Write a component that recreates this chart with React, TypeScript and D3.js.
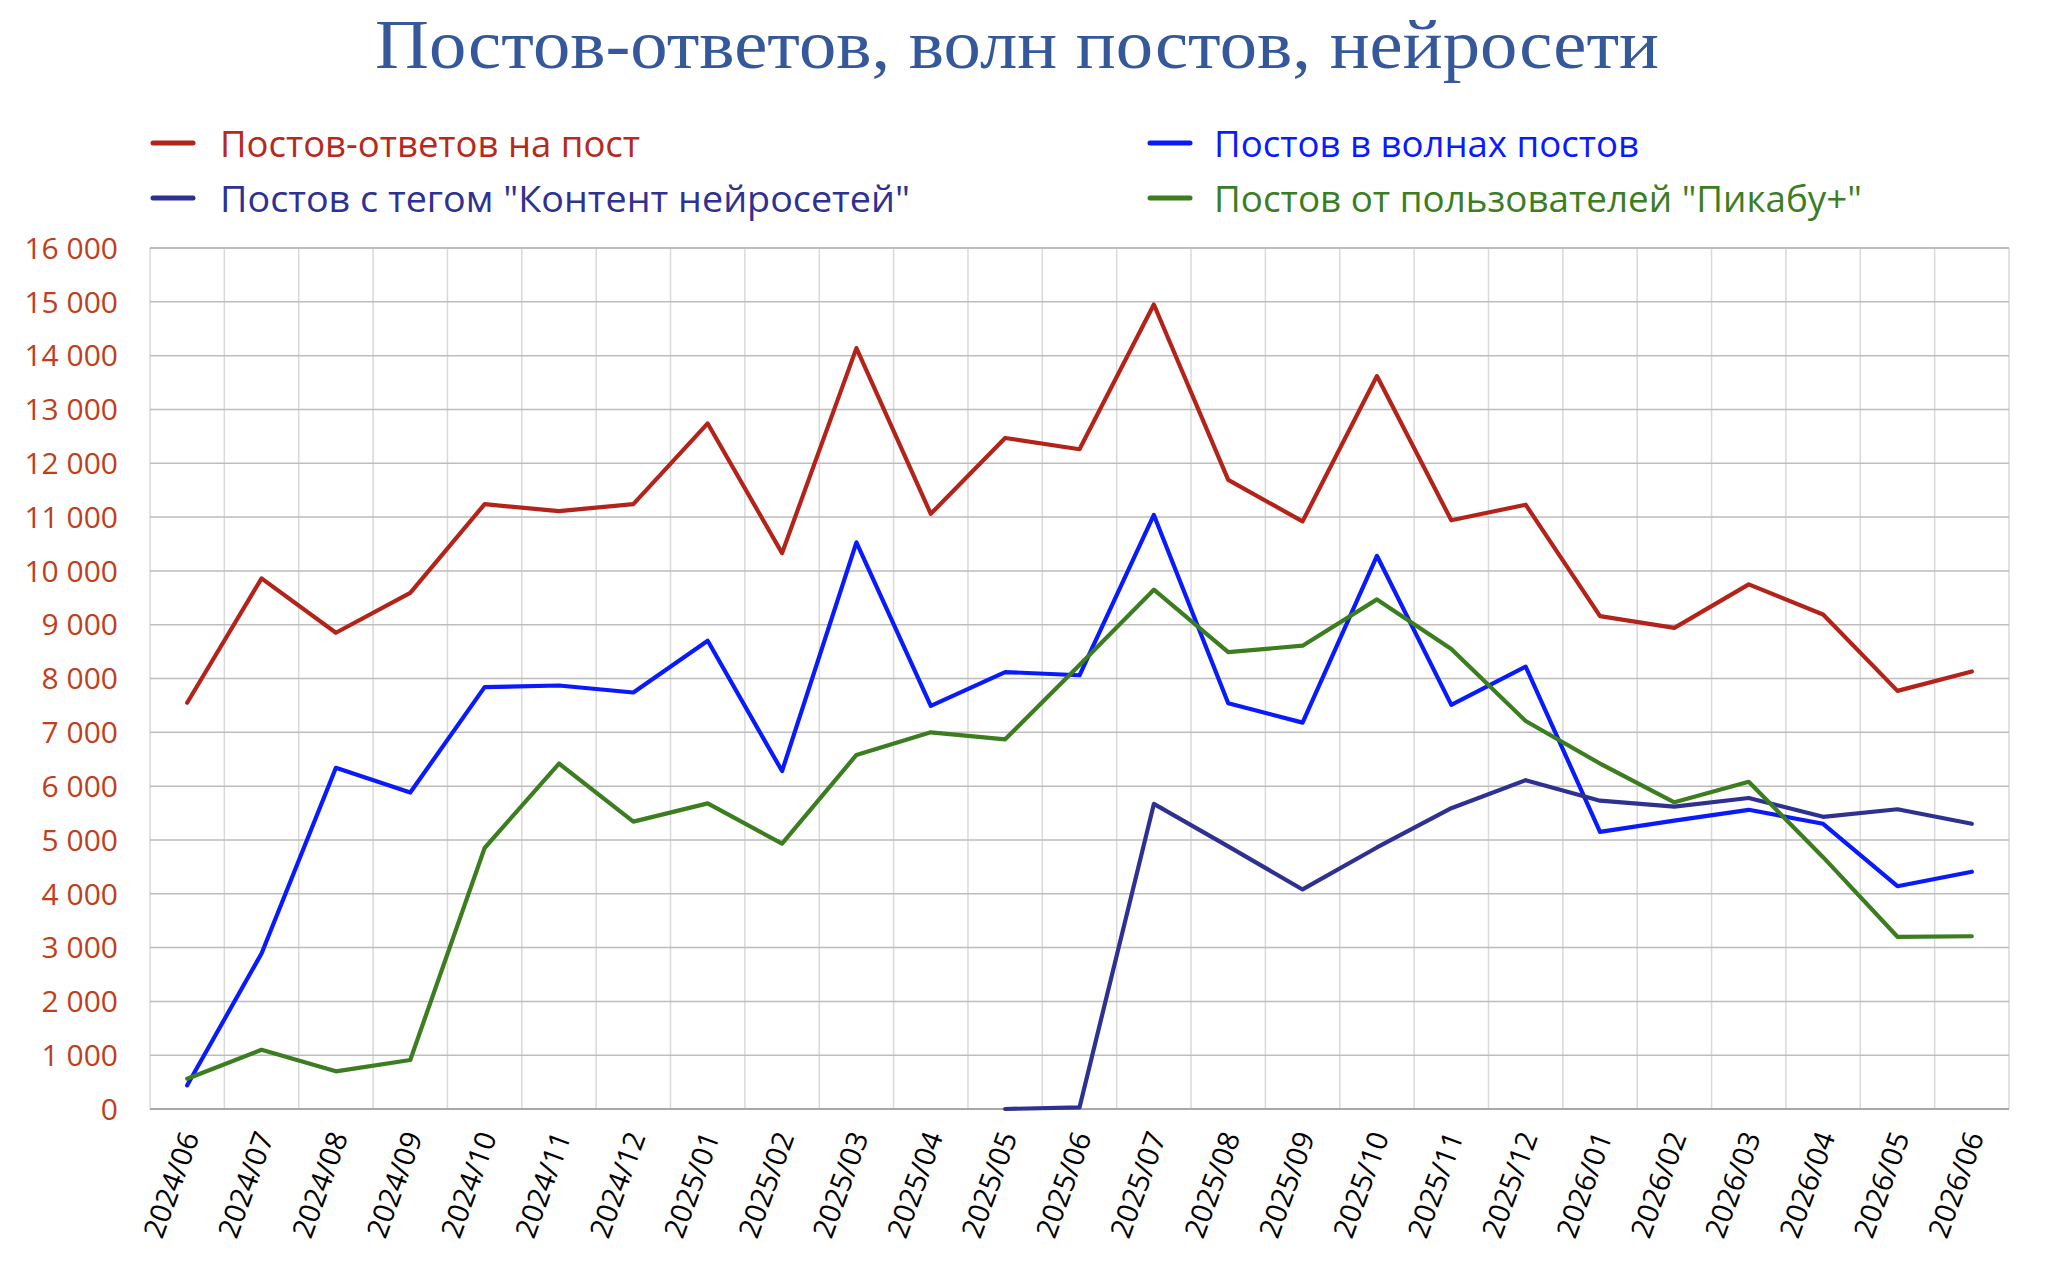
import React from "react";
import * as d3 from "d3";

const months = [
  "2024/06","2024/07","2024/08","2024/09","2024/10","2024/11","2024/12",
  "2025/01","2025/02","2025/03","2025/04","2025/05","2025/06","2025/07",
  "2025/08","2025/09","2025/10","2025/11","2025/12","2026/01","2026/02",
  "2026/03","2026/04","2026/05","2026/06",
];

const replyPosts = [
  7550, 9860, 8850, 9590, 11240, 11110, 11240, 12740, 10330, 14140, 11060, 12470,
  12260, 14950, 11690, 10920, 13620, 10940, 11230, 9160, 8940, 9750, 9190, 7770, 8130,
];

const wavePosts = [
  440, 2890, 6340, 5880, 7840, 7870, 7740, 8700, 6280, 10530, 7490, 8120,
  8060, 11040, 7540, 7180, 10280, 7510, 8220, 5150, 5360, 5560, 5300, 4140, 4410,
];

const aiTagPosts: (number | null)[] = [
  null, null, null, null, null, null, null, null, null, null, null, 0,
  30, 5670, 4880, 4080, 4860, 5590, 6110, 5730, 5620, 5780, 5430, 5570, 5300,
];

const pikabuPlusPosts = [
  563, 1100, 700, 910, 4850, 6420, 5340, 5680, 4930, 6580, 7000, 6870,
  8250, 9650, 8490, 8610, 9470, 8550, 7210, 6420, 5700, 6080, 4680, 3200, 3210,
];

const yTicks = d3.range(0, 16001, 1000);

const seriesNames = [
  "Постов-ответов на пост",
  "Постов в волнах постов",
  "Постов с тегом \"Контент нейросетей\"",
  "Постов от пользователей \"Пикабу+\"",
];

const W = 2048;
const H = 1269;
const plotLeft = 150;
const plotRight = 2009;
const plotTop = 248;
const plotBottom = 1109;

export default function App() {
  const x = d3.scaleBand<string>().domain(months).range([plotLeft, plotRight]).paddingInner(0).paddingOuter(0);
  const y = d3.scaleLinear().domain([0, 16000]).range([plotBottom, plotTop]);
  const cx = (m: string) => (x(m) as number) + x.bandwidth() / 2;

  const line = d3
    .line<number | null>()
    .defined((d) => d !== null)
    .x((_, i) => cx(months[i]))
    .y((d) => y(d as number));

  const series = [
    { name: seriesNames[0], data: replyPosts as (number | null)[], color: "#b3231a", text: "#b8281c" },
    { name: seriesNames[1], data: wavePosts as (number | null)[], color: "#0a1aff", text: "#0a1aff" },
    { name: seriesNames[2], data: aiTagPosts, color: "#2e3192", text: "#2e3192" },
    { name: seriesNames[3], data: pikabuPlusPosts as (number | null)[], color: "#3b7d1f", text: "#3b7d1f" },
  ];

  const legendPos = [
    { x: 153, y: 143, tx: 220, len: 420 },
    { x: 1150, y: 143, tx: 1214, len: 425 },
    { x: 153, y: 198, tx: 220, len: 690 },
    { x: 1150, y: 198, tx: 1214, len: 648 },
  ];

  const boundaries = months.map((m) => x(m) as number).concat([plotRight]);

  return (
    <svg width={W} height={H} style={{ display: "block", position: "absolute", left: 0, top: 0 }}>
      <rect x={0} y={0} width={W} height={H} fill="#ffffff" />
      <text
        x={1017}
        y={68}
        textAnchor="middle"
        fontFamily="'Liberation Serif', 'DejaVu Serif', serif"
        fontSize={70}
        fill="#35589a"
        textLength={1284}
        lengthAdjust="spacingAndGlyphs"
      >
        Постов-ответов, волн постов, нейросети
      </text>

      {series.map((s, i) => (
        <g key={s.name}>
          <line
            x1={legendPos[i].x}
            x2={legendPos[i].x + 40}
            y1={legendPos[i].y}
            y2={legendPos[i].y}
            stroke={s.color}
            strokeWidth={5}
            strokeLinecap="round"
          />
          <text
            x={legendPos[i].tx}
            y={legendPos[i].y + 14}
            fontFamily="'Open Sans', 'Noto Sans', sans-serif"
            fontSize={36}
            fill={s.text}
            textLength={legendPos[i].len}
            lengthAdjust="spacingAndGlyphs"
          >
            {s.name}
          </text>
        </g>
      ))}

      {boundaries.map((bx, i) => (
        <line key={"v" + i} x1={bx} x2={bx} y1={plotTop} y2={plotBottom} stroke="#d9d9d9" strokeWidth={1.5} />
      ))}
      {yTicks.map((t) => (
        <line
          key={"h" + t}
          x1={plotLeft}
          x2={plotRight}
          y1={y(t)}
          y2={y(t)}
          stroke={t === 0 ? "#a8a8a8" : "#bdbdbd"}
          strokeWidth={t === 0 || t === 16000 ? 2 : 1.5}
        />
      ))}

      {yTicks.map((t) => (
        <text
          key={"yl" + t}
          x={118}
          y={y(t)}
          dy="0.36em"
          textAnchor="end"
          fontFamily="'Open Sans', 'Noto Sans', sans-serif"
          fontSize={30}
          fill="#c03e1c"
        >
          {d3.format(",")(t).replace(/,/g, "\u00a0")}
        </text>
      ))}

      {months.map((m) => (
        <text
          key={"xl" + m}
          transform={`translate(${cx(m) + 3},${1133}) rotate(-70)`}
          dy="0.35em"
          textAnchor="end"
          fontFamily="'Open Sans', 'Noto Sans', sans-serif"
          fontSize={29}
          fill="#000000"
        >
          {m}
        </text>
      ))}

      {series.map((s) => (
        <path
          key={"p" + s.name}
          d={line(s.data) || ""}
          fill="none"
          stroke={s.color}
          strokeWidth={4.2}
          strokeLinejoin="round"
          strokeLinecap="round"
        />
      ))}
    </svg>
  );
}
